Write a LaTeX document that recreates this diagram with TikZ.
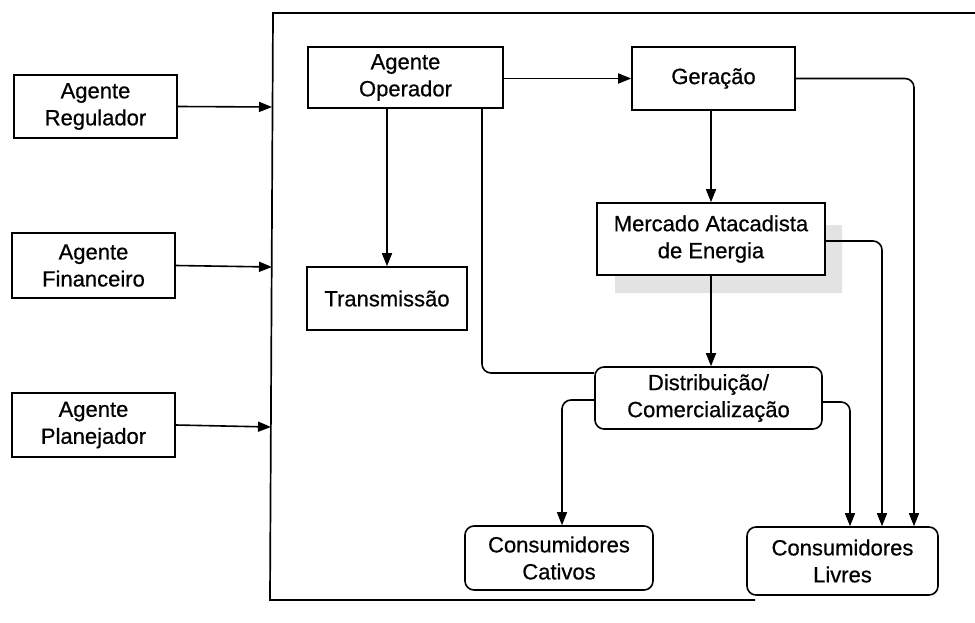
\documentclass[tikz,border=0pt]{standalone}
\usepackage{fontspec}
\setmainfont{Liberation Sans}[FakeBold=0.6]
\usetikzlibrary{arrows.meta}
\begin{document}
\begin{tikzpicture}[x=1pt,y=-1pt,
  box/.style={draw, line width=1.6pt, align=center, inner sep=0pt,
    font=\fontsize{22}{27}\selectfont},
  rbox/.style={box, rounded corners=9pt},
  link/.style={line width=1.6pt, rounded corners=9pt},
  arr/.style={link, -{Triangle[length=13pt,width=10pt]}}]
\useasboundingbox (0,0) rectangle (975,623);

% outer system frame (open on the right)
\draw[line width=1.7pt] (975,13) -- (273,13) -- (270,600) -- (755,600);
\coordinate (f1) at (272,107);
\coordinate (f2) at (272,267);
\coordinate (f3) at (271,427);

% external agents
\node[box, minimum width=163pt, minimum height=63pt] (reg) at (95.5,106.5) {Agente\\Regulador};
\node[box, minimum width=163pt, minimum height=65pt] (fin) at (93.5,265.5) {Agente\\Financeiro};
\node[box, minimum width=163pt, minimum height=64pt] (pla) at (93.5,425) {Agente\\Planejador};

% shadow behind the wholesale market
\fill[gray!22] (825,225) -- (842,225) -- (842,293) -- (615,293) -- (615,275) -- (825,275) -- cycle;

% internal blocks
\node[box, minimum width=195pt, minimum height=61pt] (op) at (405.5,77.5) {Agente\\Operador};
\node[box, minimum width=163pt, minimum height=63pt] (ger) at (713.5,78.5) {Geração};
\node[box, minimum width=160pt, minimum height=63pt] (tra) at (387,298.5) {Transmissão};
\node[box, fill=white, minimum width=228pt, minimum height=72pt] (mer) at (711,239) {Mercado Atacadista\\de Energia};
\node[rbox, minimum width=227pt, minimum height=62pt] (dis) at (708.5,398) {Distribuição/\\Comercialização};
\node[rbox, minimum width=188pt, minimum height=64pt] (cat) at (559,558) {Consumidores\\Cativos};
\node[rbox, minimum width=191pt, minimum height=68pt] (liv) at (842.5,561) {Consumidores\\Livres};

% agents into the system
\draw[arr] (reg.east) -- (f1);
\draw[arr] (fin.east) -- (f2);
\draw[arr] (pla.east) -- (f3);

% flows inside the system
\draw[arr] (ger.west -| op.east) -- (ger.west);
\draw[arr] (op.south -| tra.north) -- (tra.north);
\draw[link] ([xshift=76.5pt]op.south) |- ([yshift=25pt]dis.west);
\draw[arr] (mer.north |- ger.south) -- (mer.north);
\draw[arr] (mer.south) -- (mer.south |- dis.north);
\draw[arr] (ger.east) -| ([xshift=71.5pt]liv.north);
\draw[arr] ([yshift=-2pt]mer.east) -| ([xshift=39.5pt]liv.north);
\draw[arr] ([yshift=-4pt]dis.east) -| ([xshift=7.5pt]liv.north);
\draw[arr] ([yshift=-2pt]dis.west) -| ([xshift=3pt]cat.north);
\end{tikzpicture}
\end{document}
